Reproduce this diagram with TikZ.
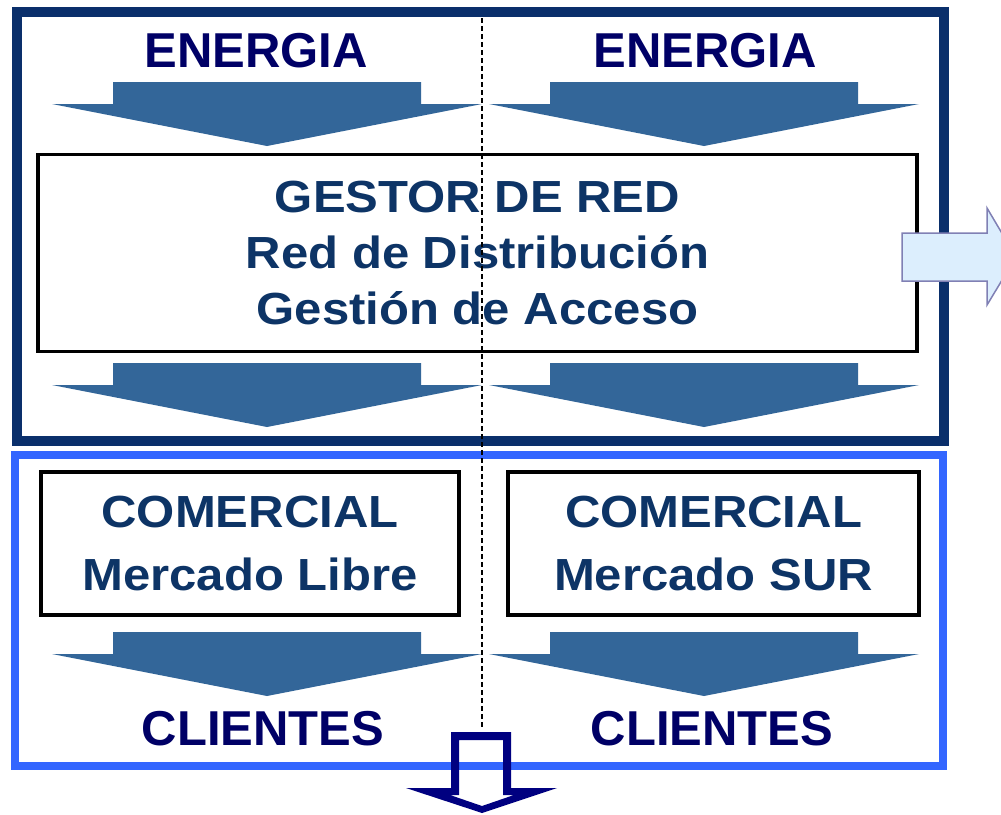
\documentclass[tikz,border=0pt]{standalone}
\usepackage{fontspec}
\setmainfont{Liberation Sans}
\newfontfamily\cajafont[FakeStretch=1.09]{Liberation Sans}
\definecolor{marino}{HTML}{0A2F6B}
\definecolor{celeste}{HTML}{3366FF}
\definecolor{azulflecha}{HTML}{336699}
\definecolor{tinta}{HTML}{000066}
\definecolor{tintacaja}{HTML}{0D3466}
\definecolor{lila}{HTML}{8080B4}
\definecolor{hielo}{HTML}{DCEEFD}
\definecolor{oscuro}{HTML}{000080}

\begin{document}
\begin{tikzpicture}[x=1pt,y=-1pt,
  titulo/.style={font=\fontsize{49}{55}\selectfont\bfseries, text=tinta, anchor=base, inner sep=0pt},
  caja/.style={draw, fill=white, line width=3.5pt, text=tintacaja, align=center, inner sep=0pt},
  bajada/.pic={\fill[azulflecha] (-154,0) -- (154,0) -- (154,22) -- (215,22) -- (0,64) -- (-215,22) -- (-154,22) -- cycle;}]
\useasboundingbox (0,0) rectangle (1001,814);
\clip (0,0) rectangle (1001,814);
\fill[white] (0,0) rectangle (1001,814);
% marcos
\draw[marino, line width=10pt] (17,12) rectangle (944,441);
\draw[celeste, line width=8pt] (15,455) rectangle (943,766);
% cajas
\node[caja, minimum width=879, minimum height=197, font=\cajafont\fontsize{45}{56}\selectfont\bfseries] (gestor) at (477.5,253) {GESTOR DE RED\\Red de Distribución\\Gestión de Acceso};
\node[caja, minimum width=418, minimum height=143, font=\cajafont\fontsize{45}{63}\selectfont\bfseries] (libre) at (250,543.5) {COMERCIAL\\Mercado Libre};
\node[caja, minimum width=411, minimum height=143, font=\cajafont\fontsize{45}{63}\selectfont\bfseries] (sur) at (713.5,543.5) {COMERCIAL\\Mercado SUR};
% flechas
\pic at (267,82) {bajada};
\pic at (704,82) {bajada};
\pic at (267,363) {bajada};
\pic at (704,363) {bajada};
\pic at (267,632) {bajada};
\pic at (704,632) {bajada};
% textos
\node[titulo] (energiaA) at (256,67) {ENERGIA};
\node[titulo] (energiaB) at (705,67) {ENERGIA};
\node[titulo] (clientesA) at (263,745) {CLIENTES};
\node[titulo] (clientesB) at (712,745) {CLIENTES};
% salida lateral
\draw[lila, line width=1.5pt, left color=hielo, middle color=white, right color=hielo, shading angle=90]
  (902,233) -- (987,233) -- (987,208) -- (1016,257) -- (987,305) -- (987,281) -- (902,281) -- cycle;
% division
\coordinate (arriba) at (482,18);
\coordinate (abajo) at (482,728);
\draw[dash pattern=on 5pt off 3pt, line width=1.3pt] (arriba) -- (abajo);
% salida inferior
\fill[oscuro, even odd rule]
  (451,732) -- (511,732) -- (511,788) -- (557,788) -- (482,813) -- (406,788) -- (451,788) -- cycle
  (459,740) -- (503,740) -- (503,795) -- (514,795) -- (482,806) -- (450,795) -- (459,795) -- cycle;
\end{tikzpicture}
\end{document}
